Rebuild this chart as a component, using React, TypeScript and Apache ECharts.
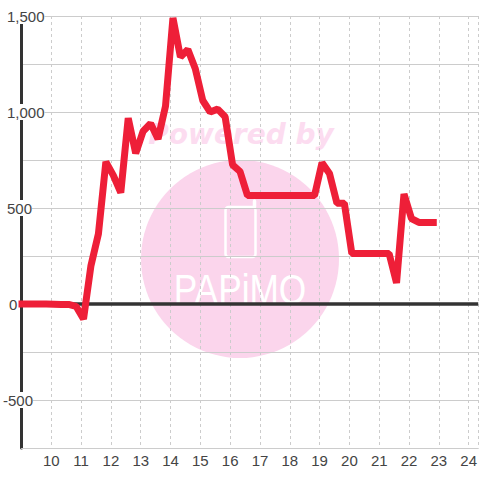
import React, { useEffect, useRef } from "react";
import * as echarts from "echarts";

const hours = [8.9,9.08,9.33,9.58,9.83,10.08,10.33,10.58,10.83,11.08,11.33,11.58,11.83,12.08,12.33,12.58,12.83,13.08,13.33,13.58,13.83,14.08,14.33,14.58,14.83,15.08,15.33,15.58,15.83,16.08,16.33,16.58,16.83,17.08,17.33,17.58,17.83,18.08,18.33,18.58,18.83,19.08,19.33,19.58,19.83,20.08,20.33,20.58,20.83,21.08,21.33,21.58,21.83,22.08,22.33,22.58,22.93];
const values = [0,0,0,0,0,-1,-2,-2,-12,-78,200,365,740,670,580,968,785,900,940,860,1030,1490,1287,1325,1225,1060,1000,1015,975,725,690,565,565,565,565,565,565,565,565,565,565,735,680,525,525,263,263,263,263,263,263,110,573,445,425,425,425];
const yLabels: Record<string, string> = { "1500": "{a|1,500}", "1000": "{a|1,000}", "500": "{a|500}", "0": "{b|0}", "-500": "-500" };
const xLabels = [10,11,12,13,14,15,16,17,18,19,20,21,22,23,24];
const TEXT = "#444444";
const FONT = "Liberation Sans";
const PINK = "#fbd5ec";

export default function App() {
  const ref = useRef<HTMLDivElement>(null);
  useEffect(() => {
    document.body.style.margin = "0";
    const chart = echarts.init(ref.current!, undefined, { renderer: "svg" });
    chart.setOption({
      animation: false,
      backgroundColor: "#ffffff",
      grid: { left: 20.5, right: 0, top: 16, bottom: 32, containLabel: false },
      xAxis: {
        type: "value", min: 9, max: 24.32, interval: 1,
        axisLine: { onZero: false, lineStyle: { color: "#cccccc", width: 1 } },
        axisTick: { show: false },
        splitLine: { show: true, lineStyle: { color: "#cccccc", type: [3, 3], width: 1 } },
        axisLabel: {
          color: TEXT, fontFamily: FONT, fontSize: 15, margin: 5,
          showMinLabel: false, showMaxLabel: false,
          formatter: (v: number) => (xLabels.includes(v) ? String(v) : ""),
        },
      },
      yAxis: {
        type: "value", min: -750, max: 1500, interval: 250,
        axisLine: { show: true, onZero: false, lineStyle: { color: "#333333", width: 3 } },
        axisTick: { show: false },
        splitLine: { show: true, lineStyle: { color: "#cccccc", width: 1 } },
        axisLabel: {
          color: TEXT, fontFamily: FONT, fontSize: 15, margin: 18.5, align: "left",
          backgroundColor: "#ffffff", lineHeight: 16,
          formatter: (v: number) => yLabels[String(v)] ?? "",
          rich: {
            a: { padding: [0, 0, 0, 4], color: TEXT, fontFamily: FONT, fontSize: 15, lineHeight: 16 },
            b: { padding: [0, 0, 0, 6], color: TEXT, fontFamily: FONT, fontSize: 15, lineHeight: 16 },
          },
        },
      },
      graphic: {
        elements: [
          { type: "circle", z: -10, shape: { cx: 240, cy: 259, r: 99 }, style: { fill: PINK } },
          { type: "text", z: -10, x: 241, y: 134, style: { text: "Powered by", fill: "#fcdcf0", font: "italic bold 28px 'DejaVu Sans'", align: "center", verticalAlign: "middle" } },
          { type: "rect", z: -9, shape: { x: 225.5, y: 207, width: 30, height: 50, r: 3 }, style: { fill: "none", stroke: "#ffffff", lineWidth: 2.5 } },
          { type: "line", z: -9, shape: { x1: 254.5, y1: 207, x2: 254.5, y2: 201 }, style: { stroke: "#ffffff", lineWidth: 3.5, lineCap: "round" } },
          { type: "text", z: -9, x: 240, y: 288.5, scaleX: 1.47, scaleY: 1.8, style: { text: "PAPiMO", fill: "#ffffff", font: "24px 'Liberation Sans'", align: "center", verticalAlign: "middle" } },
        ],
      },
      series: [
        {
          type: "line", data: hours.map((h, i) => [h, values[i]]), showSymbol: false, symbol: "none", clip: false, z: 3,
          lineStyle: { color: "#ee1f38", width: 7, join: "bevel", cap: "butt" },
          markLine: { silent: true, symbol: "none", z: 1, label: { show: false }, lineStyle: { color: "#333333", width: 3.5, type: "solid" }, data: [{ yAxis: 0 }] },
        },
      ],
    });
    return () => chart.dispose();
  }, []);
  return <div ref={ref} style={{ width: 480, height: 480 }} />;
}
